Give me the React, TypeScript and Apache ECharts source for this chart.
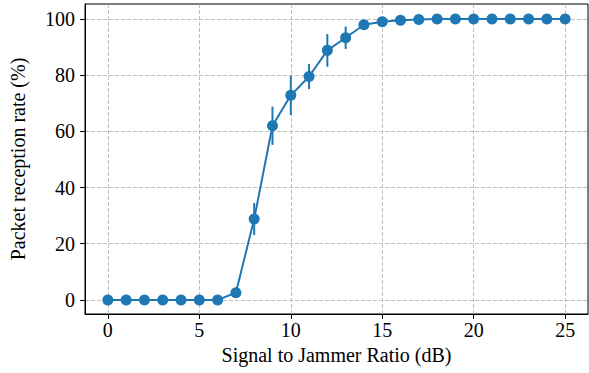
import React, { useEffect, useRef } from "react";
import * as echarts from "echarts";

const sjr = [0, 1, 2, 3, 4, 5, 6, 7, 8, 9, 10, 11, 12, 13, 14, 15, 16, 17, 18, 19, 20, 21, 22, 23, 24, 25];
const prr = [0, 0, 0, 0, 0, 0, 0, 2.6, 28.8, 62.0, 72.8, 79.5, 88.8, 93.3, 97.9, 99.0, 99.5, 99.8, 100, 100, 100, 100, 100, 100, 100, 100];
const err = [0, 0, 0, 0, 0, 0, 0, 0.5, 5.7, 6.8, 7.0, 4.5, 5.8, 4.0, 1.0, 0.5, 0.3, 0.2, 0, 0, 0, 0, 0, 0, 0, 0];
const xTicks = [0, 5, 10, 15, 20, 25];
const yTicks = [0, 20, 40, 60, 80, 100];

const BLUE = "#1f77b4";
const FONT = "Liberation Serif";

export default function App() {
  const ref = useRef<HTMLDivElement>(null);
  useEffect(() => {
    document.body.style.margin = "0";
    const chart = echarts.init(ref.current!, null, { renderer: "svg" });
    const line = sjr.map((x, i) => [x, prr[i]]);
    const ebar = sjr.map((x, i) => [x, prr[i] - err[i], prr[i] + err[i]]);
    const axisCommon: any = {
      axisLine: { show: true, onZero: false, lineStyle: { color: "#000", width: 1 } },
      axisTick: { show: true, inside: false, length: 5, lineStyle: { color: "#000", width: 1 } },
      splitLine: { show: true, lineStyle: { color: "#b0b0b0", type: [4, 2], width: 0.8 } },
      nameTextStyle: { fontFamily: FONT, fontSize: 20, color: "#000" },
    };
    chart.setOption({
      animation: false,
      grid: { left: 85, right: 1, top: 4, bottom: 59, show: true, borderColor: "#000", borderWidth: 1 },
      xAxis: {
        type: "value",
        min: -1.25,
        max: 26.25,
        name: "Signal to Jammer Ratio (dB)",
        nameLocation: "middle",
        nameGap: 31,
        ...axisCommon,
        axisTick: { ...axisCommon.axisTick, customValues: xTicks },
        axisLabel: { customValues: xTicks, fontFamily: FONT, fontSize: 20, color: "#000", margin: 6 },
      },
      yAxis: {
        type: "value",
        min: -5,
        max: 105.3,
        name: "Packet reception rate (%)",
        nameLocation: "middle",
        nameGap: 57,
        ...axisCommon,
        axisTick: { ...axisCommon.axisTick, customValues: yTicks },
        axisLabel: { customValues: yTicks, fontFamily: FONT, fontSize: 20, color: "#000", margin: 10 },
      },
      series: [
        {
          type: "line",
          data: line,
          z: 3,
          symbol: "circle",
          symbolSize: 11,
          lineStyle: { color: BLUE, width: 2 },
          itemStyle: { color: BLUE },
        },
        {
          type: "custom",
          data: ebar,
          z: 2,
          renderItem: (params: any, api: any) => {
            const x = api.value(0);
            const p1 = api.coord([x, api.value(1)]);
            const p2 = api.coord([x, api.value(2)]);
            return {
              type: "line",
              shape: { x1: p1[0], y1: p1[1], x2: p2[0], y2: p2[1] },
              style: { stroke: BLUE, lineWidth: 2 },
            };
          },
        },
      ],
    });
    return () => chart.dispose();
  }, []);
  return <div ref={ref} style={{ width: 589, height: 373 }} />;
}
